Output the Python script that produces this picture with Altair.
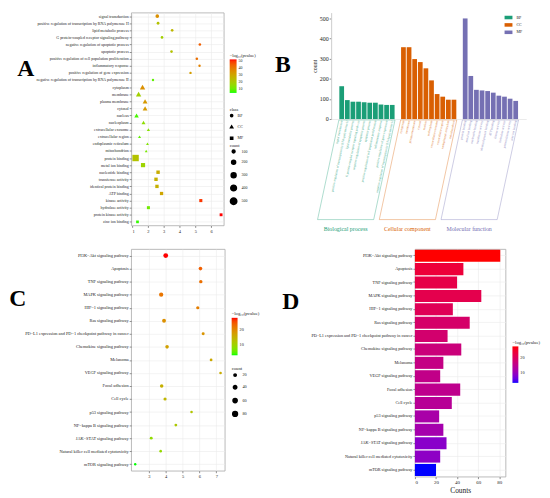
import altair as alt
import pandas as pd

FONT = "Liberation Serif"
GRID = "#ebebeb"

# ---------------- GO enrichment data (panels A and B) ----------------
bp_terms = ["signal transduction",
            "positive regulation of transcription by RNA polymerase II",
            "lipid metabolic process",
            "G protein-coupled receptor signaling pathway",
            "negative regulation of apoptotic process",
            "apoptotic process",
            "positive regulation of cell population proliferation",
            "inflammatory response",
            "positive regulation of gene expression",
            "negative regulation of transcription by RNA polymerase II"]
cc_terms = ["cytoplasm", "membrane", "plasma membrane", "cytosol", "nucleus",
            "nucleoplasm", "extracellular exosome", "extracellular region",
            "endoplasmic reticulum", "mitochondrion"]
mf_terms = ["protein binding", "metal ion binding", "nucleotide binding",
            "transferase activity", "identical protein binding", "ATP binding",
            "kinase activity", "hydrolase activity", "protein kinase activity",
            "zinc ion binding"]

go_count_bp = [163, 94, 86, 86, 83, 81, 81, 72, 70, 70]
go_count_cc = [357, 357, 298, 283, 252, 192, 124, 111, 96, 96]
go_count_mf = [500, 214, 145, 142, 139, 131, 116, 111, 101, 90]

go_x_bp = [2.6, 2.65, 3.54, 2.9, 5.29, 3.5, 5.1, 5.27, 4.7, 2.33]
go_x_cc = [1.67, 1.42, 1.83, 1.83, 1.29, 1.73, 2.04, 1.48, 1.98, 1.9]
go_x_mf = [1.23, 1.7, 2.65, 2.52, 2.58, 2.87, 5.35, 2.04, 6.63, 1.35]

go_logp_bp = [35, 22, 25, 18, 45, 22, 42, 38, 32, 8]
go_logp_cc = [35, 18, 33, 33, 6, 14, 13, 8, 12, 11]
go_logp_mf = [22, 17, 28, 27, 27, 30, 50, 10, 53, 5]

go_classes = ["BP", "CC", "MF"]
go_class_names = ["Biological process", "Cellular component", "Molecular function"]
go_class_colors = ["#1b9e77", "#d95f02", "#7570b3"]

# ---------------- KEGG enrichment data (panels C and D) ----------------
kegg_terms = ["PI3K\u2212Akt signaling pathway", "Apoptosis", "TNF signaling pathway",
              "MAPK signaling pathway", "HIF\u22121 signaling pathway", "Ras signaling pathway",
              "PD\u2212L1 expression and PD\u22121 checkpoint pathway in cancer",
              "Chemokine signaling pathway", "Melanoma", "VEGF signaling pathway",
              "Focal adhesion", "Cell cycle", "p53 signaling pathway",
              "NF\u2212kappa B signaling pathway", "JAK\u2212STAT signaling pathway",
              "Natural killer cell mediated cytotoxicity", "mTOR signaling pathway"]
kegg_x = [4.0, 6.06, 6.08, 3.73, 5.9, 3.9, 6.22, 4.08, 6.69, 7.25, 3.76, 3.96, 5.53, 4.6, 3.14, 3.7, 2.19]
kegg_count = [81, 46, 40, 63, 36, 52, 31, 44, 27, 24, 43, 35, 23, 27, 30, 24, 20]
kegg_logp = [28, 24, 22.5, 22, 21, 19, 18.5, 17, 16, 15.5, 15, 14, 12, 11.5, 8.5, 9, 3]

LOGP_TITLE = "\u2212log\u2081\u2080(pvalue)"

# ---------------- tables ----------------
groups = (bp_terms, cc_terms, mf_terms)
dfGO = pd.DataFrame({
    "term": bp_terms + cc_terms + mf_terms,
    "cls": [c for c, t in zip(go_classes, groups) for _ in t],
    "idx": [g * 11 + i for g, t in enumerate(groups) for i in range(len(t))],
    "x": go_x_bp + go_x_cc + go_x_mf,
    "logp": go_logp_bp + go_logp_cc + go_logp_mf,
    "count": go_count_bp + go_count_cc + go_count_mf,
})

SLANT, TOP, BOT = 3.8, -5, -500
box_rows, name_rows = [], []
for g, c in enumerate(go_classes):
    s, e = g * 11 - 0.5, g * 11 + 9.5
    box_rows += [dict(cls=c, x=s, y=TOP, x2=e, y2=TOP),
                 dict(cls=c, x=s - SLANT, y=BOT, x2=e - SLANT, y2=BOT),
                 dict(cls=c, x=s, y=TOP, x2=s - SLANT, y2=BOT),
                 dict(cls=c, x=e, y=TOP, x2=e - SLANT, y2=BOT)]
    name_rows.append(dict(cls=c, name=go_class_names[g], xc=g * 11 + 4.5 - SLANT))
dfBox = pd.DataFrame(box_rows)
dfNames = pd.DataFrame(name_rows)

dfK = pd.DataFrame({"term": kegg_terms, "x": kegg_x, "count": kegg_count, "logp": kegg_logp})


def letter(ch, dx, dy):
    return alt.Chart(pd.DataFrame({"t": [ch]})).mark_text(
        font=FONT, fontSize=24, fontWeight="bold", align="center", baseline="middle", color="black"
    ).encode(text="t:N", x=alt.value(dx), y=alt.value(dy))


# ---------------- Panel A ----------------
pointsA = alt.Chart(dfGO).mark_point(filled=True, opacity=1).encode(
    x=alt.X("x:Q", scale=alt.Scale(domain=[0.95, 6.8], nice=False, zero=False),
            axis=alt.Axis(values=[1, 2, 3, 4, 5, 6], title=None, labelFontSize=4.5, labelPadding=1)),
    y=alt.Y("term:N", sort=bp_terms + cc_terms + mf_terms,
            axis=alt.Axis(title=None, labelFontSize=4, labelPadding=1, grid=True, labelLimit=0)),
    color=alt.Color("logp:Q",
                    scale=alt.Scale(domain=[3.7, 52.7], range=["#00ff00", "#ff0000"], interpolate="lab"),
                    legend=alt.Legend(title=LOGP_TITLE, orient="none", legendX=100, legendY=41,
                                      direction="vertical", gradientLength=34, gradientThickness=7,
                                      values=[10, 20, 30, 40, 50], titleFontSize=4.5, labelFontSize=4,
                                      titlePadding=2, labelOffset=2, gradientStrokeWidth=0)),
    shape=alt.Shape("cls:N", scale=alt.Scale(domain=go_classes, range=["circle", "triangle-up", "square"]),
                    legend=alt.Legend(title="class", orient="none", legendX=100, legendY=96,
                                      symbolSize=5, symbolFillColor="black", symbolStrokeColor="black",
                                      titleFontSize=4.5, labelFontSize=4, rowPadding=2.5, titlePadding=2)),
    size=alt.Size("count:Q", scale=alt.Scale(domain=[0, 500], range=[0, 42]),
                  legend=alt.Legend(title="count", orient="none", legendX=100, legendY=132,
                                    values=[100, 200, 300, 400, 500], symbolFillColor="black",
                                    symbolStrokeColor="black", titleFontSize=4.5, labelFontSize=4,
                                    rowPadding=0.5, titlePadding=2)),
)
chartA = alt.layer(pointsA, letter("A", -107, 57)).properties(width=94, height=216)

# ---------------- Panel B ----------------
colorB = alt.Scale(domain=go_classes, range=go_class_colors)
xB = alt.Scale(domain=[-1, 32], nice=False, zero=False)
yB = alt.Scale(domain=[0, 529], nice=False)

barsB = alt.Chart(dfGO).mark_bar(size=4.8).encode(
    x=alt.X("idx:Q", scale=xB,
            axis=alt.Axis(title=None, labels=False, ticks=False, grid=False, domain=True,
                          domainColor="#dddddd", domainWidth=0.6)),
    y=alt.Y("count:Q", scale=yB,
            axis=alt.Axis(values=[0, 100, 200, 300, 400, 500], title="count", grid=False, domain=True,
                          domainColor="#cccccc", labelFontSize=6, titleFontSize=6,
                          titlePadding=2, labelPadding=1, labelOverlap=False, labelFlush=False)),
    color=alt.Color("cls:N", scale=colorB,
                    legend=alt.Legend(title=None, orient="none", legendX=176, legendY=1,
                                      symbolType="M-1,-0.45H1V0.45H-1Z", symbolSize=64,
                                      symbolStrokeWidth=0, labelFontSize=4, rowPadding=1.5)),
)
labelsB = alt.Chart(dfGO).mark_text(angle=282, align="right", baseline="middle", fontSize=3.2,
                                    font=FONT, opacity=0.85).encode(
    x=alt.X("idx:Q", scale=xB, axis=None), y=alt.YDatum(-8, axis=None), text="term:N",
    color=alt.Color("cls:N", scale=colorB, legend=None))
boxB = alt.Chart(dfBox).mark_rule(strokeWidth=0.6, opacity=0.6).encode(
    x=alt.X("x:Q", scale=xB, axis=None), x2=alt.X2("x2"),
    y=alt.Y("y:Q", scale=yB, axis=None), y2=alt.Y2("y2"),
    color=alt.Color("cls:N", scale=colorB, legend=None))
namesB = alt.Chart(dfNames).mark_text(fontSize=6, font=FONT, baseline="middle").encode(
    x=alt.X("xc:Q", scale=xB, axis=None), y=alt.YDatum(-545, axis=None), text="name:N",
    color=alt.Color("cls:N", scale=colorB, legend=None))
chartB = alt.layer(barsB, labelsB, boxB, namesB, letter("B", -49, 53)).resolve_axis(
    x="independent", y="independent").properties(
    width=198, height=108, view=alt.ViewBackground(strokeOpacity=0))

# ---------------- Panel C ----------------
logpC = alt.Scale(domain=[3, 28], range=["#00ff00", "#ff0000"], interpolate="lab")
pointsC = alt.Chart(dfK).mark_circle(opacity=1).encode(
    x=alt.X("x:Q", scale=alt.Scale(domain=[1.95, 7.5], nice=False, zero=False),
            axis=alt.Axis(values=[3, 4, 5, 6, 7], title=None, labelFontSize=4.5, labelPadding=1)),
    y=alt.Y("term:N", sort=kegg_terms,
            axis=alt.Axis(title=None, labelFontSize=4.4, labelPadding=1, grid=True, labelLimit=0)),
    color=alt.Color("logp:Q", scale=logpC,
                    legend=alt.Legend(title=LOGP_TITLE, orient="none", legendX=102, legendY=63,
                                      direction="vertical", gradientLength=38, gradientThickness=6,
                                      values=[10, 20], titleFontSize=4.8, labelFontSize=4.3,
                                      titlePadding=2, labelOffset=2, gradientStrokeWidth=0)),
    size=alt.Size("count:Q", scale=alt.Scale(domain=[0, 81], range=[0, 24]),
                  legend=alt.Legend(title="count", orient="none", legendX=102, legendY=119,
                                    values=[20, 40, 60, 80], symbolFillColor="black",
                                    symbolStrokeColor="black", titleFontSize=4.8, labelFontSize=4.3,
                                    rowPadding=2, titlePadding=2)),
)
chartC = alt.layer(pointsC, letter("C", -115, 51)).properties(width=95, height=225)

# ---------------- Panel D ----------------
barsD = alt.Chart(dfK).mark_bar().encode(
    x=alt.X("count:Q", scale=alt.Scale(domain=[0, 86], nice=False),
            axis=alt.Axis(values=[0, 20, 40, 60, 80], title="Counts", titleFontSize=7.5,
                          labelFontSize=5, labelPadding=1, titlePadding=2)),
    y=alt.Y("term:N", sort=kegg_terms, scale=alt.Scale(paddingInner=0.1, paddingOuter=0.05),
            axis=alt.Axis(title=None, labelFontSize=4.3, labelPadding=1, grid=True, labelLimit=0)),
    color=alt.Color("logp:Q", scale=alt.Scale(domain=[3, 28], range=["#0000ff", "#ff0000"], interpolate="lab"),
                    legend=alt.Legend(title=LOGP_TITLE, orient="none", legendX=99, legendY=92,
                                      direction="vertical", gradientLength=37, gradientThickness=6,
                                      values=[10, 20], titleFontSize=4.8, labelFontSize=4.3,
                                      titlePadding=2, labelOffset=2, gradientStrokeWidth=0)),
)
chartD = alt.layer(barsD, letter("D", -126, 54)).properties(width=92, height=231)

RES = dict(x="independent", y="independent", color="independent", size="independent", shape="independent")
row1 = alt.hconcat(chartA, chartB, spacing=17).resolve_scale(**RES)
row2 = alt.hconcat(chartC, chartD, spacing=20).resolve_scale(**RES)

chart = alt.vconcat(row1, row2, spacing=15).resolve_scale(**RES).properties(
    padding={"left": 0, "top": 0, "right": 0, "bottom": 0}
).configure(font=FONT).configure_view(
    stroke="#a8a8a8", strokeWidth=0.8
).configure_axis(
    labelFont=FONT, titleFont=FONT, titleFontWeight="normal", labelColor="#222222",
    titleColor="#222222", gridColor=GRID, gridWidth=0.6, tickColor="#444444", tickSize=2,
    tickWidth=0.6, domain=False
).configure_legend(
    labelFont=FONT, titleFont=FONT, titleFontWeight="normal", labelColor="#222222", titleColor="#222222"
)

chart.save("out.html", embed_options={"renderer": "svg", "actions": False})
